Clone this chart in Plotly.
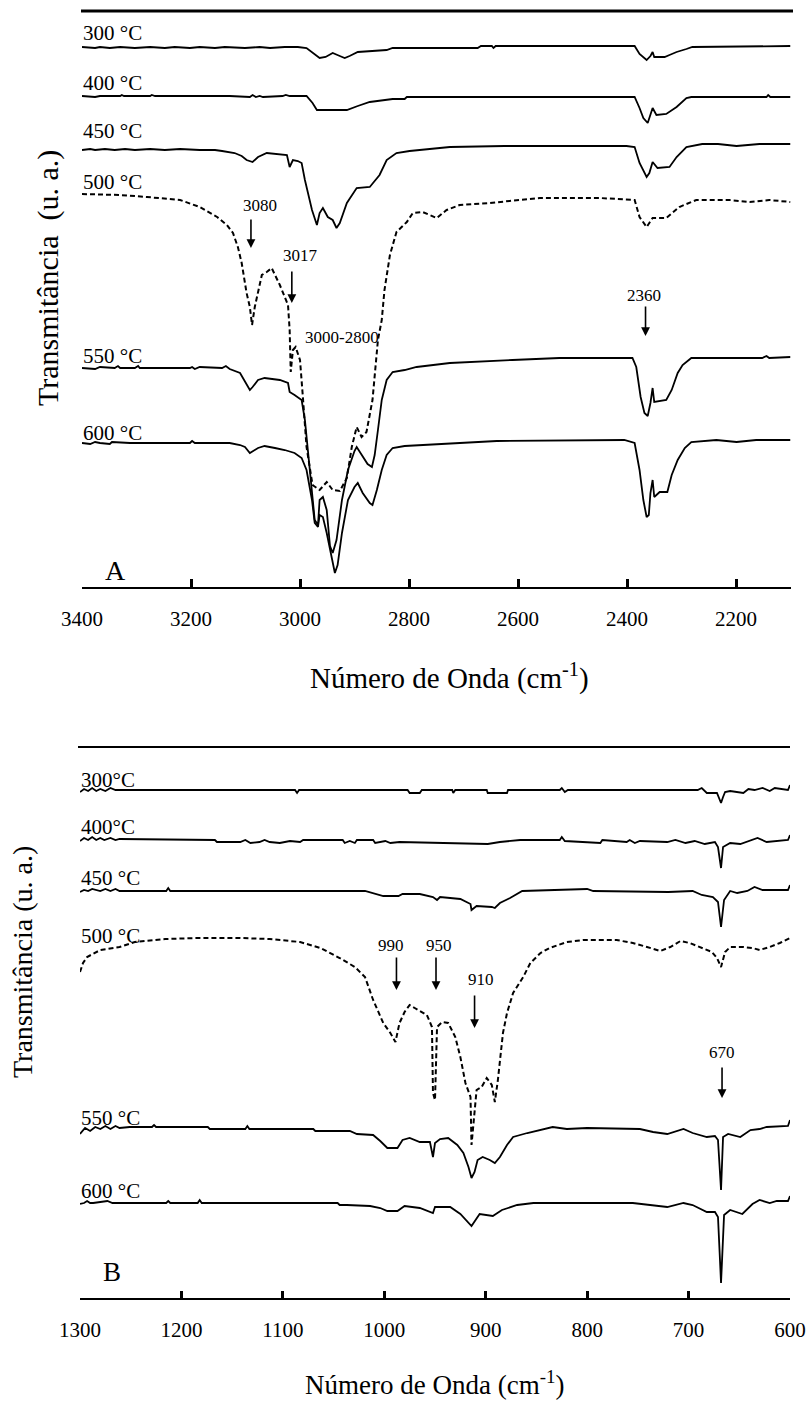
import plotly.graph_objects as go

FONT = "Liberation Serif"
W, H = 811, 1401

# ---------------- Panel A (3400-2100 cm-1) ----------------
A300_WN = [3400,3376,3367,3349,3330,3303,3275,3248,3230,3202,3184,3156,3138,3101,3074,3055,3028,3004,2988,2977,2964,2953,2940,2927,2918,2909,2894,2841,2830,2674,2668,2648,2645,2641,2386,2377,2364,2357,2353,2350,2331,2322,2309,2291,2280,2100]
A300_T = [540,539,540,539,540,539,540,539,540,539,540,539,540,539,540,539,540,540,539,534,529,530,534,531,529,531,535,537,539,539,541,541,539,541,541,533,527,531,535,530,530,532,535,538,540,541]

A400_WN = [3400,3376,3367,3330,3327,3323,3275,3272,3266,3129,3092,3087,3081,3074,3068,3032,3026,3019,2988,2977,2969,2945,2914,2894,2872,2830,2808,2804,2386,2377,2370,2362,2357,2353,2346,2328,2309,2291,2282,2144,2141,2137,2100]
A400_T = [491,490,491,491,492,491,491,492,491,491,490,492,490,491,490,491,492,491,491,484,477,477,477,481,485,488,488,490,490,479,469,464,472,479,472,473,480,489,490,490,492,490,490]

A450_WN = [3400,3385,3376,3358,3340,3321,3303,3275,3248,3220,3184,3156,3143,3132,3120,3107,3098,3087,3077,3061,3037,3024,3019,3013,3004,2997,2991,2978,2969,2964,2958,2949,2940,2933,2927,2914,2896,2872,2854,2841,2823,2799,2725,2625,2401,2386,2377,2364,2359,2353,2344,2322,2309,2291,2262,2233,2199,2157,2100]
A450_T = [437,438,437,438,437,438,437,438,437,438,437,437,436,435,434,431,427,425,430,434,433,432,420,427,426,424,407,377,362,374,379,370,367,359,364,384,399,400,412,427,434,436,440,441,441,440,424,410,414,425,419,420,430,440,443,443,441,443,443]

A500_WN = [3400,3330,3281,3220,3184,3152,3134,3123,3114,3107,3098,3092,3088,3083,3070,3061,3052,3037,3022,3019,3017,3013,3008,3000,2995,2991,2988,2977,2964,2951,2940,2927,2914,2905,2896,2887,2878,2867,2857,2850,2845,2835,2823,2804,2793,2775,2749,2731,2707,2652,2597,2560,2450,2386,2377,2364,2353,2328,2304,2273,2212,2175,2139,2100]
A500_T = [393,392,390,387,380,370,362,354,340,324,294,280,262,280,312,315,319,302,282,257,215,237,240,227,192,167,140,102,97,105,97,96,109,140,160,150,155,187,247,267,297,332,355,365,374,375,369,377,382,384,387,389,389,387,370,360,369,369,380,387,387,385,387,385]

A550_WN = [3400,3376,3367,3340,3334,3330,3303,3297,3294,3202,3198,3193,3184,3143,3136,3129,3110,3101,3092,3087,3077,3065,3037,3022,3019,3010,2997,2991,2986,2978,2973,2967,2964,2958,2951,2945,2940,2933,2923,2912,2900,2896,2887,2876,2868,2863,2857,2850,2841,2830,2808,2786,2725,2676,2610,2524,2390,2383,2375,2368,2362,2357,2353,2350,2340,2328,2318,2307,2298,2282,2152,2144,2139,2100]
A550_T = [219,218,220,219,221,219,219,221,219,219,220,218,220,219,221,218,214,206,197,200,207,209,207,204,195,192,187,167,141,97,67,62,87,90,77,41,34,47,87,117,136,140,132,123,120,132,157,187,207,215,217,220,224,225,227,229,229,220,190,174,171,184,199,185,186,187,197,214,222,229,229,231,229,230]

A600_WN = [3400,3385,3376,3367,3349,3345,3312,3202,3198,3193,3129,3120,3110,3101,3092,3077,3065,3046,3028,3010,2997,2988,2978,2973,2967,2964,2958,2951,2942,2936,2931,2923,2912,2900,2894,2885,2872,2867,2859,2850,2841,2830,2808,2777,2744,2639,2405,2386,2377,2370,2364,2360,2357,2353,2350,2340,2326,2318,2307,2294,2282,2236,2199,2163,2100]
A600_T = [144,143,145,144,143,145,144,144,146,144,144,143,142,140,134,139,141,139,137,134,129,117,87,64,60,72,70,54,30,14,22,54,87,100,104,94,84,82,97,117,132,139,141,142,143,146,147,144,117,87,70,72,94,107,90,95,95,112,127,139,145,147,145,147,147]

# ---------------- Panel B (1300-600 cm-1) ----------------
B300_WN = [1300,1296,1292,1288,1284,1280,1275,1270,1265,1261,1088,1086,1084,977,975,965,963,933,932,930,899,898,879,878,827,825,822,819,691,687,682,672,670,668,666,664,659,646,641,635,627,620,615,602,600]
B300_T = [506,509,507,510,507,509,507,510,508,508,508,505,508,508,505,505,508,508,505,508,508,505,505,508,508,510,506,508,508,510,505,505,500,495,501,506,507,505,509,508,510,507,510,508,513]

B400_WN = [1300,1296,1292,1288,1284,1280,1276,1270,1265,1261,1167,1165,1142,1137,1132,1123,1118,1113,1103,1093,1083,1080,1041,1039,1034,1029,1027,1011,1009,999,994,985,898,886,866,827,825,822,787,785,761,758,753,748,721,713,703,694,684,674,671,668,666,659,649,639,632,623,602,600]
B400_T = [457,460,458,461,458,460,458,460,458,459,458,456,456,458,455,456,458,456,455,457,456,458,458,455,457,455,458,458,455,457,455,456,454,456,458,458,461,457,455,458,456,458,455,457,456,458,455,457,454,456,451,430,451,455,454,458,460,456,458,463]

B450_WN = [1300,1296,1292,1288,1280,1275,1270,1265,1261,1215,1213,1211,1019,1011,1001,986,982,965,952,948,945,925,915,914,909,894,891,886,876,864,827,800,794,720,696,687,676,671,668,665,659,652,642,635,627,602,600]
B450_T = [406,408,407,409,407,409,407,409,407,407,410,407,407,405,402,402,404,404,401,398,401,399,394,388,392,391,390,395,400,407,408,409,407,406,407,403,401,396,371,398,407,405,407,411,408,408,413]

B500_WN = [1300,1297,1293,1280,1261,1246,1216,1182,1142,1113,1083,1063,1044,1029,1019,1011,1001,994,989,985,980,975,970,963,958,953,952,950,948,943,937,930,925,920,915,914,909,904,899,894,891,888,886,883,879,873,863,856,846,837,820,804,771,755,741,728,718,708,699,689,677,672,668,664,659,646,637,630,620,610,600]
B500_T = [326,335,341,348,351,356,359,360,360,359,356,350,340,331,321,298,275,265,256,275,286,293,290,286,283,271,205,198,271,276,275,261,241,215,201,153,208,211,220,213,196,218,238,265,285,305,321,335,345,350,356,358,358,355,351,347,351,357,355,351,346,340,331,346,351,351,350,348,351,355,360]

B550_WN = [1300,1295,1290,1285,1280,1275,1270,1265,1261,1251,1229,1227,1225,1206,1174,1172,1137,1135,1133,1070,1068,1034,1027,1011,1004,997,987,982,975,965,955,952,950,945,937,928,922,917,914,911,908,903,896,891,886,879,873,859,844,834,820,800,748,735,721,705,696,682,674,671,668,666,661,649,639,630,623,602,600]
B550_T = [164,170,167,171,169,172,169,172,170,171,171,173,171,171,171,169,169,172,169,169,167,167,164,163,157,150,150,158,160,156,156,141,155,159,160,153,145,131,120,126,138,141,138,135,141,153,161,165,169,171,169,170,169,166,164,169,165,161,162,158,108,161,164,161,168,169,171,172,178]

B600_WN = [1300,1296,1293,1290,1287,1280,1273,1268,1261,1215,1213,1211,1184,1182,1180,1046,1044,1037,1014,1004,997,987,980,965,952,950,935,925,914,906,893,884,869,853,820,755,721,705,696,682,674,671,668,665,659,647,637,630,620,613,602,600]
B600_T = [94,95,97,95,95,96,97,95,95,95,97,95,95,98,95,95,93,93,92,90,87,87,92,90,85,91,91,84,72,84,82,88,93,95,95,95,91,95,93,86,86,81,15,83,88,84,94,98,95,97,97,102]

TEMPS_A = ["300 °C", "400 °C", "450 °C", "500 °C", "550 °C", "600 °C"]
TEMPS_B = ["300°C", "400°C", "450 °C", "500 °C", "550 °C", "600 °C"]
TICKS_A = [3400, 3200, 3000, 2800, 2600, 2400, 2200]
TICKS_B = [1300, 1200, 1100, 1000, 900, 800, 700, 600]
BANDS_A = ["3080", "3017", "2360"]
BANDS_B = ["990", "950", "910", "670"]

fig = go.Figure()

specA = [(A300_WN, A300_T, "solid"), (A400_WN, A400_T, "solid"), (A450_WN, A450_T, "solid"),
         (A500_WN, A500_T, "dash"), (A550_WN, A550_T, "solid"), (A600_WN, A600_T, "solid")]
specB = [(B300_WN, B300_T, "solid"), (B400_WN, B400_T, "solid"), (B450_WN, B450_T, "solid"),
         (B500_WN, B500_T, "dash"), (B550_WN, B550_T, "solid"), (B600_WN, B600_T, "solid")]

for (wn, t, d), name in zip(specA, TEMPS_A):
    fig.add_trace(go.Scatter(x=wn, y=t, mode="lines", name=name, xaxis="x", yaxis="y",
                             line=dict(color="black", width=1.8 if d == "solid" else 2,
                                       dash="solid" if d == "solid" else "5px,3px")))
for (wn, t, d), name in zip(specB, TEMPS_B):
    fig.add_trace(go.Scatter(x=wn, y=t, mode="lines", name=name, xaxis="x2", yaxis="y2",
                             line=dict(color="black", width=1.8 if d == "solid" else 2,
                                       dash="solid" if d == "solid" else "5px,3px")))

def px(x):
    return x / W

def py(y):
    return 1 - y / H

axis_common = dict(showgrid=False, zeroline=False, showline=True, linecolor="black", automargin=False,
                   ticks="inside", tickcolor="black", tickfont=dict(family=FONT, size=21, color="black"),
                   ticklabelstandoff=12)

fig.update_layout(
    template="none",
    width=W, height=H, margin=dict(l=0, r=0, t=0, b=0, pad=0, autoexpand=False),
    paper_bgcolor="white", plot_bgcolor="white", showlegend=False,
    font=dict(family=FONT, color="black"),
    xaxis=dict(domain=[px(82), px(790.5)], range=[3400, 2100], anchor="y",
               tickvals=TICKS_A, ticktext=[str(v) for v in TICKS_A],
               linewidth=2, ticklen=8, tickwidth=3, **axis_common),
    yaxis=dict(domain=[py(587), py(11)], range=[0, 576], visible=False, automargin=False),
    xaxis2=dict(domain=[px(80), px(790)], range=[1300, 600], anchor="y2",
                tickvals=TICKS_B, ticktext=[str(v) for v in TICKS_B],
                linewidth=2, ticklen=7, tickwidth=3, **axis_common),
    yaxis2=dict(domain=[py(1298), py(747)], range=[0, 551], visible=False, automargin=False),
)

# top frame lines
fig.add_shape(type="line", xref="paper", yref="paper", x0=px(81), x1=px(793), y0=py(11), y1=py(11),
              line=dict(color="black", width=3))
fig.add_shape(type="line", xref="paper", yref="paper", x0=px(78), x1=px(790), y0=py(747), y1=py(747),
              line=dict(color="black", width=2))

ann = []
# temperature labels
for name, y in zip(TEMPS_A, [33, 83, 131, 182, 356, 433]):
    ann.append(dict(text=name, x=px(81), y=py(y), xref="paper", yref="paper", xanchor="left",
                    yanchor="middle", showarrow=False, font=dict(family=FONT, size=21)))
for name, y in zip(TEMPS_B, [780, 827, 878, 936, 1118, 1191]):
    ann.append(dict(text=name, x=px(79), y=py(y), xref="paper", yref="paper", xanchor="left",
                    yanchor="middle", showarrow=False, font=dict(family=FONT, size=21)))

# panel letters
ann.append(dict(text="A", x=px(115), y=py(570), xref="paper", yref="paper", showarrow=False,
                xanchor="center", yanchor="middle", font=dict(family=FONT, size=28)))
ann.append(dict(text="B", x=px(112), y=py(1272), xref="paper", yref="paper", showarrow=False,
                xanchor="center", yanchor="middle", font=dict(family=FONT, size=27)))

# band labels + arrows, panel A
for lbl, (tx, ty), (hx, hy, ty0) in zip(BANDS_A,
                                        [(3074, 382), (3000, 332), (2368, 292)],
                                        [(3090, 339, 369), (3015, 284, 317), (2366, 251, 282)]):
    ann.append(dict(text=lbl, x=tx, y=ty, xref="x", yref="y", showarrow=False,
                    xanchor="center", yanchor="middle", font=dict(family=FONT, size=17)))
    ann.append(dict(text="", x=hx, y=hy, ax=hx, ay=ty0, xref="x", yref="y", axref="x", ayref="y",
                    showarrow=True, arrowhead=2, arrowsize=1.1, arrowwidth=1.6, arrowcolor="black"))
ann.append(dict(text="3000-2800", x=2923, y=250, xref="x", yref="y", showarrow=False,
                xanchor="center", yanchor="middle", font=dict(family=FONT, size=17)))

# band labels + arrows, panel B
for lbl, (tx, ty), (hx, hy, ty0) in zip(BANDS_B,
                                        [(993, 353), (946, 353), (905, 319), (667, 246)],
                                        [(988, 308, 342), (949, 308, 342), (911, 270, 304), (667, 200, 232)]):
    ann.append(dict(text=lbl, x=tx, y=ty, xref="x2", yref="y2", showarrow=False,
                    xanchor="center", yanchor="middle", font=dict(family=FONT, size=17)))
    ann.append(dict(text="", x=hx, y=hy, ax=hx, ay=ty0, xref="x2", yref="y2", axref="x2", ayref="y2",
                    showarrow=True, arrowhead=2, arrowsize=1.1, arrowwidth=1.6, arrowcolor="black"))

# axis titles
ann.append(dict(text="Número de Onda (cm<sup>-1</sup>)", x=px(449), y=py(676), xref="paper", yref="paper",
                xanchor="center", yanchor="middle", showarrow=False, font=dict(family=FONT, size=29)))
ann.append(dict(text="Número de Onda (cm<sup>-1</sup>)", x=px(434), y=py(1383), xref="paper", yref="paper",
                xanchor="center", yanchor="middle", showarrow=False, font=dict(family=FONT, size=27)))
ann.append(dict(text="Transmitância  (u. a.)", x=px(48), y=py(278), xref="paper", yref="paper",
                xanchor="center", yanchor="middle", showarrow=False, textangle=-90,
                font=dict(family=FONT, size=30)))
ann.append(dict(text="Transmitância (u. a.)", x=px(22), y=py(962), xref="paper", yref="paper",
                xanchor="center", yanchor="middle", showarrow=False, textangle=-90,
                font=dict(family=FONT, size=28)))

fig.update_layout(annotations=ann)
fig.write_html("out.html")
